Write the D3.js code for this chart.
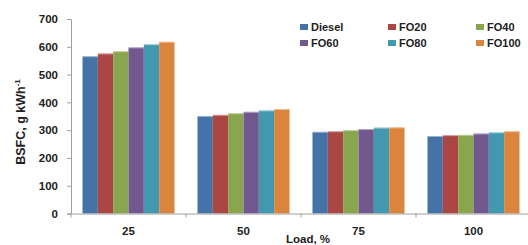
<!DOCTYPE html>
<html>
<head>
<meta charset="utf-8">
<script src="https://cdn.jsdelivr.net/npm/d3@7"></script>
<style>
  body { margin: 0; background: #fff; }
  svg text { font-family: "Liberation Sans", Arial, sans-serif; fill: #222; }
</style>
</head>
<body>
<script>
const loads = ["25", "50", "75", "100"];
const fuels = ["Diesel", "FO20", "FO40", "FO60", "FO80", "FO100"];
const bsfc = {
    "Diesel": [566, 351, 294, 279],
    "FO20":   [576, 355, 296, 282],
    "FO40":   [584, 361, 300, 283],
    "FO60":   [598, 366, 304, 288],
    "FO80":   [609, 371, 309, 292],
    "FO100":  [618, 376, 310, 296]
};
const yTicks = [0, 100, 200, 300, 400, 500, 600, 700];
const colors = ["#4572A7", "#AA4643", "#89A54E", "#71588F", "#4198AF", "#DB843D"];

const width = 528, height = 245;
const plotLeft = 71, plotRight = 531, plotTop = 19, plotBottom = 213.5;

const svg = d3.select("body").append("svg")
    .attr("width", width)
    .attr("height", height);

const x0 = d3.scaleBand().domain(loads).range([plotLeft, plotRight]).padding(0);
const x1 = d3.scaleBand().domain(fuels)
    .range([x0.bandwidth() * 0.1, x0.bandwidth() * 0.9]);
const y = d3.scaleLinear().domain([0, 700]).range([plotBottom, plotTop]);
const color = d3.scaleOrdinal().domain(fuels).range(colors);

// bars
const groups = svg.selectAll("g.grp")
    .data(loads)
    .enter().append("g")
    .attr("class", "grp")
    .attr("transform", d => `translate(${x0(d)},0)`);

groups.selectAll("rect")
    .data((d, i) => fuels.map(f => ({ fuel: f, v: bsfc[f][i] })))
    .enter().append("rect")
    .attr("x", d => x1(d.fuel))
    .attr("y", d => y(d.v))
    .attr("width", x1.bandwidth())
    .attr("height", d => plotBottom - y(d.v))
    .attr("fill", d => color(d.fuel));

// light top edge like the original
groups.selectAll("line.hl")
    .data((d, i) => fuels.map(f => ({ fuel: f, v: bsfc[f][i] })))
    .enter().append("line")
    .attr("x1", d => x1(d.fuel))
    .attr("x2", d => x1(d.fuel) + x1.bandwidth())
    .attr("y1", d => y(d.v) + 0.5)
    .attr("y2", d => y(d.v) + 0.5)
    .attr("stroke", "#fff")
    .attr("stroke-opacity", 0.45);

// y axis
const yAxis = d3.axisLeft(y).tickValues(yTicks).tickSize(4).tickPadding(9);
const gy = svg.append("g")
    .attr("transform", `translate(${plotLeft},0)`)
    .call(yAxis);
gy.select(".domain").attr("stroke", "#a0a0a0");
gy.selectAll(".tick line").attr("stroke", "#a0a0a0");
gy.selectAll(".tick text")
    .style("font-size", "11.5px")
    .style("font-weight", "bold")
    .attr("fill", "#333");

// x axis
const xAxis = d3.axisBottom(x0).tickSize(0).tickPadding(13);
const gx = svg.append("g")
    .attr("transform", `translate(0,${plotBottom})`)
    .call(xAxis);
gx.select(".domain").attr("stroke", "#a0a0a0");
gx.selectAll(".tick text")
    .style("font-size", "11.5px")
    .style("font-weight", "bold")
    .attr("fill", "#333");
// boundary tick marks between categories
gx.selectAll("line.sep")
    .data(loads)
    .enter().append("line")
    .attr("x1", d => x0(d))
    .attr("x2", d => x0(d))
    .attr("y1", 0)
    .attr("y2", 4)
    .attr("stroke", "#a0a0a0");

// axis titles
svg.append("text")
    .attr("x", (plotLeft + plotRight) / 2 + 7)
    .attr("y", 243)
    .attr("text-anchor", "middle")
    .style("font-size", "11.5px")
    .style("font-weight", "bold")
    .text("Load, %");

const yt = svg.append("text")
    .attr("transform", `translate(25,122) rotate(-90)`)
    .attr("text-anchor", "middle")
    .style("font-family", "'Liberation Sans Narrow', 'Arial Narrow', sans-serif")
    .style("font-weight", "bold")
    .style("font-size", "12.5px");
yt.append("tspan").text("BSFC, g  kWh");
yt.append("tspan").attr("dy", -5).style("font-size", "8px").text("-1");

// legend
const legend = svg.append("g");
const item = legend.selectAll("g")
    .data(fuels)
    .enter().append("g")
    .attr("transform", (d, i) => `translate(${300 + (i % 3) * 88},${i < 3 ? 23 : 39})`);
item.append("rect")
    .attr("width", 8)
    .attr("height", 6)
    .attr("y", 1)
    .attr("fill", d => color(d));
item.append("text")
    .attr("x", 11)
    .attr("y", 8)
    .style("font-size", "11px")
    .style("font-weight", "bold")
    .text(d => d);
</script>
</body>
</html>
